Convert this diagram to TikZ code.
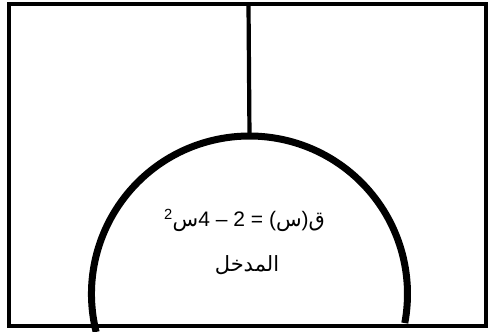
\documentclass[tikz,border=0pt]{standalone}
\usepackage{fontspec}
\setmainfont{Liberation Sans}
\newfontfamily\arabicfont[Script=Arabic]{DejaVu Sans}
\TeXXeTstate=1

\begin{document}
\begin{tikzpicture}[x=1pt,y=1pt]
            % Define dimensions
            \def\boxwidth{488}
            \def\boxheight{332}
            \def\archradius{158}
            \useasboundingbox (0,0) rectangle (\boxwidth,\boxheight);
            % Draw outer frame and the dividing wall
            \begin{scope}[black, line width=4.2pt]
                \draw (9,327.7) rectangle (486,6);
                \coordinate (archtop) at (249.5,38+\archradius);
                \draw (248.5,327.7) -- (archtop);
            \end{scope}
            % Draw the entrance arch
            \draw[black, line width=7pt] (249.5,38) ++(193.9:\archradius)
                arc[start angle=193.9, end angle=-10.6, radius=\archradius];
            % Labels inside the arch
            \node[anchor=base, inner sep=0pt, font=\fontsize{21}{24}\selectfont] (formula) at (244.5,105)
                {\textsuperscript{2}{\arabicfont س}4 – 2 = ({\arabicfont س}){\arabicfont ق}};
            \node[anchor=base, inner sep=0pt, font=\fontsize{21}{24}\selectfont] (inputlabel) at (247,60)
                {\arabicfont\beginR المدخل\endR};
        \end{tikzpicture}
\end{document}
